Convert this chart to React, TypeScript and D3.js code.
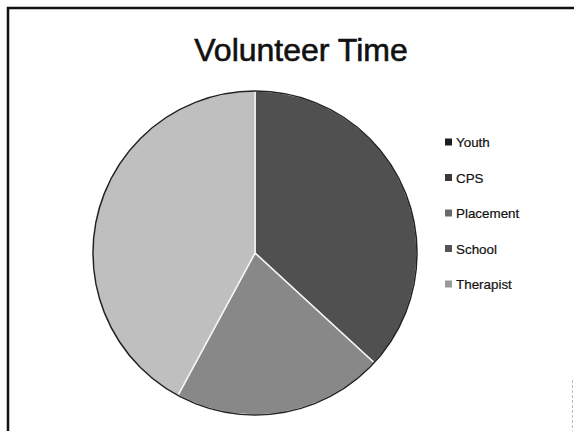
import * as d3 from 'd3'
import { useEffect, useRef } from 'react'

const categories = ['Youth', 'CPS', 'Placement', 'School', 'Therapist']
const hours = [7, 4, 8, 0, 0]
const sliceColors = ['#505050', '#888888', '#bfbfbf', '#9a9a9a', '#d0d0d0']
const markerColors = ['#1e1e1e', '#3a3a3a', '#6a6a6a', '#555555', '#9a9a9a']
const chartTitle = 'Volunteer Time'

export default function App() {
  const ref = useRef<SVGSVGElement>(null)

  useEffect(() => {
    const width = 574
    const height = 431
    const svg = d3.select(ref.current)
    svg.selectAll('*').remove()
    svg.attr('width', width).attr('height', height)

    svg.append('rect').attr('width', width).attr('height', height).attr('fill', '#fff')

    // scanned frame: left + top edge, faint right edge
    svg
      .append('path')
      .attr('d', `M8,${height} L8,8 L${width},8`)
      .attr('fill', 'none')
      .attr('stroke', '#111')
      .attr('stroke-width', 2.5)
    svg
      .append('line')
      .attr('x1', 572.5)
      .attr('x2', 572.5)
      .attr('y1', 380)
      .attr('y2', height)
      .attr('stroke', '#bbb')
      .attr('stroke-dasharray', '3,2')

    svg
      .append('text')
      .attr('x', 301)
      .attr('y', 61)
      .attr('text-anchor', 'middle')
      .attr('font-family', '"Liberation Sans", Arial, sans-serif')
      .attr('font-size', 32)
      .attr('fill', '#111')
      .attr('stroke', '#111')
      .attr('stroke-width', 0.6)
      .text(chartTitle)

    const cx = 255
    const cy = 253
    const r = 162

    const data = categories.map((name, i) => ({ name, value: hours[i] }))
    const pie = d3
      .pie<{ name: string; value: number }>()
      .sort(null)
      .value((d) => d.value)
    const arc = d3
      .arc<d3.PieArcDatum<{ name: string; value: number }>>()
      .innerRadius(0)
      .outerRadius(r)
    const color = d3.scaleOrdinal<string>().domain(categories).range(sliceColors)

    const g = svg.append('g').attr('transform', `translate(${cx},${cy})`)
    g.selectAll('path')
      .data(pie(data).filter((d) => d.data.value > 0))
      .enter()
      .append('path')
      .attr('d', arc)
      .attr('fill', (d) => color(d.data.name))
      .attr('stroke', '#f4f4f4')
      .attr('stroke-width', 1.5)
    g.append('circle').attr('r', r).attr('fill', 'none').attr('stroke', '#222').attr('stroke-width', 1.5)

    // legend
    const legendY = d3
      .scalePoint<string>()
      .domain(categories)
      .range([142, 284])
    const markerColor = d3.scaleOrdinal<string>().domain(categories).range(markerColors)
    const legend = svg
      .append('g')
      .selectAll('g')
      .data(categories)
      .enter()
      .append('g')
      .attr('transform', (d) => `translate(445,${legendY(d)})`)
    legend
      .append('rect')
      .attr('x', 0)
      .attr('y', -3.5)
      .attr('width', 7)
      .attr('height', 7)
      .attr('fill', (d) => markerColor(d))
    legend
      .append('text')
      .attr('x', 11)
      .attr('y', 5)
      .attr('font-family', '"Liberation Sans", Arial, sans-serif')
      .attr('font-size', 13.4)
      .attr('fill', '#111')
      .attr('stroke', '#111')
      .attr('stroke-width', 0.2)
      .text((d) => d)
  }, [])

  return <svg ref={ref} style={{ position: 'absolute', left: 0, top: 0, display: 'block' }}></svg>
}
